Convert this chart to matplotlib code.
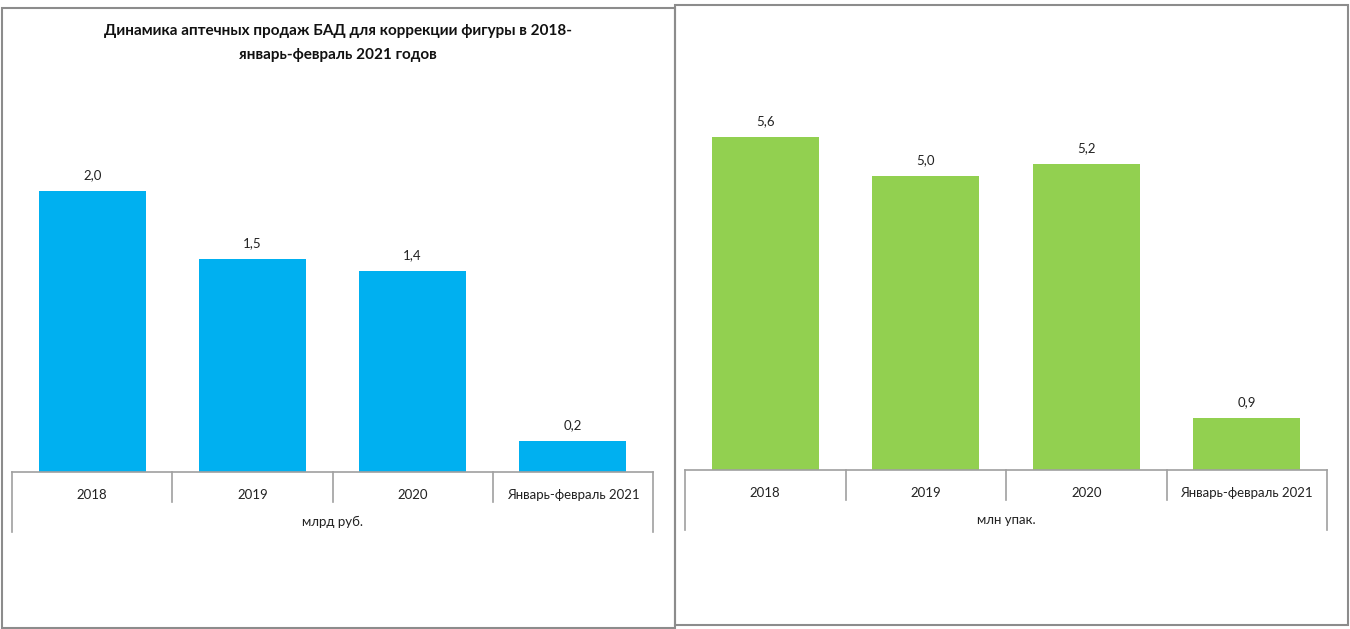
import numpy as np
import matplotlib
matplotlib.use("Agg")
import matplotlib.pyplot as plt
from matplotlib.patches import Rectangle

plt.rcParams["font.family"] = ["Lato", "DejaVu Sans"]

# DONNÉES

categories = ["2018", "2019", "2020", "Январь-февраль 2021"]
rub_values = [1.98, 1.50, 1.42, 0.22]
rub_labels = ["2,0", "1,5", "1,4", "0,2"]
pack_values = [5.62, 4.96, 5.17, 0.87]
pack_labels = ["5,6", "5,0", "5,2", "0,9"]

title = "Динамика аптечных продаж БАД для коррекции фигуры в 2018-\nянварь-февраль 2021 годов"

W, H = 1350, 629
fig = plt.figure(figsize=(W / 100, H / 100), dpi=100)
fig.patch.set_facecolor("white")


def fx(px):
    return px / W


def fy(py):
    return 1 - py / H


# cadres des deux panneaux
for x0, y0, x1, y1 in [(2, 7.5, 675, 628), (674.5, 5, 1348, 625)]:
    fig.add_artist(Rectangle((fx(x0), fy(y1)), fx(x1 - x0), (y1 - y0) / H,
                             transform=fig.transFigure, fill=False,
                             edgecolor="#8c8c8c", linewidth=1.5))


def panel(left, right, base, top, ymax, values, labels, color, unit):
    ax = fig.add_axes([fx(left), fy(base), fx(right - left), (base - top) / H])
    x = np.arange(len(categories))
    ax.bar(x, values, width=0.668, color=color)
    ax.set_xlim(-0.5, len(categories) - 0.5)
    ax.set_ylim(0, ymax)
    for xi, v, lab in zip(x, values, labels):
        ax.annotate(lab, (xi, v), xytext=(0, 10), textcoords="offset pixels",
                    ha="center", va="bottom", fontsize=9.5, color="#222222")
    for s in ["top", "right", "left"]:
        ax.spines[s].set_visible(False)
    ax.spines["bottom"].set_color("#a0a0a0")
    ax.spines["bottom"].set_linewidth(1.2)
    ax.set_yticks([])
    ax.set_xticks(x)
    ax.set_xticklabels(categories, fontsize=9.5, color="#222222")
    ax.tick_params(axis="x", length=0, pad=12)
    # tableau des catégories sous l'axe
    tr = ax.get_xaxis_transform()
    hpx = base - top
    for xb in [0.5, 1.5, 2.5]:
        ax.plot([xb, xb], [0, -30 / hpx], transform=tr, color="#a0a0a0",
                lw=1.2, clip_on=False)
    for xb in [-0.5, len(categories) - 0.5]:
        ax.plot([xb, xb], [0, -60 / hpx], transform=tr, color="#a0a0a0",
                lw=1.2, clip_on=False)
    ax.text(0.5, -50 / hpx, unit, transform=ax.transAxes, ha="center",
            va="center", fontsize=9.5, color="#222222")
    return ax


panel(12, 653, 472.3, 100, 372.3 / 142, rub_values, rub_labels, "#00b0f0", "млрд руб.")
panel(685, 1327, 470, 100, 370 / 59.2, pack_values, pack_labels, "#92d050", "млн упак.")

fig.text(fx(338), fy(43), title, ha="center", va="center", fontsize=11,
         fontweight="bold", linespacing=1.95, color="#111111")

plt.savefig("out.png", dpi=100)
